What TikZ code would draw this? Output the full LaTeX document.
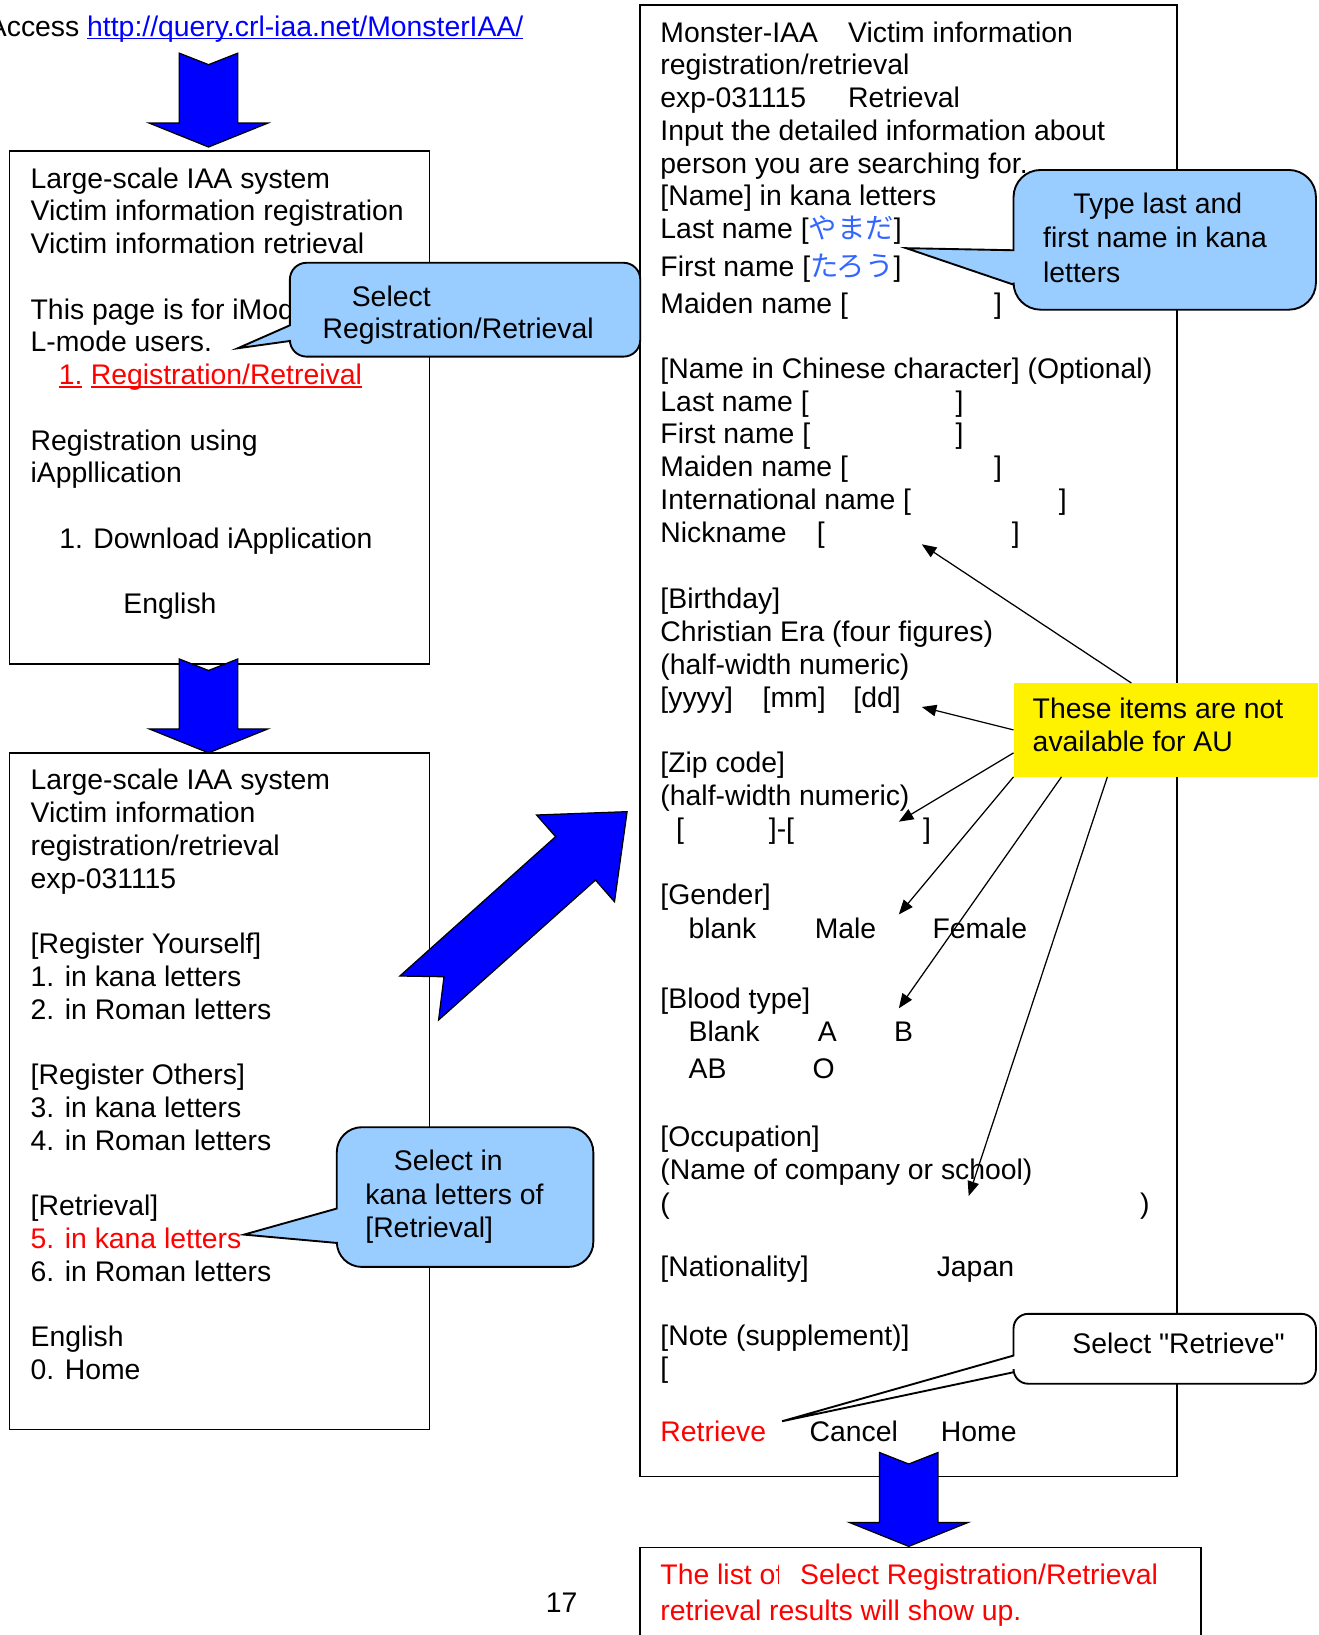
\documentclass[tikz,border=0pt]{standalone}
\usepackage{fontspec}
\setmainfont{Liberation Sans}[Ligatures=TeXOff]
\newfontfamily\jpfont{Noto Sans CJK JP}
\usetikzlibrary{arrows.meta}
\definecolor{bubbleblue}{RGB}{153,204,255}
\definecolor{kanablue}{RGB}{51,102,255}
\newlength{\ulnwidth}
\newcommand{\uln}[1]{\settowidth{\ulnwidth}{#1}\rlap{\rule[-1.4pt]{\ulnwidth}{0.65pt}}#1}
\newcommand{\fieldcol}[2]{\makebox[#1pt][l]{#2}}
\newcommand{\kana}[1]{{\jpfont\color{kanablue}#1}}
% rounded callout: style, left, top, right, bottom, radius, pointer base (top, bottom), tip
\newcommand{\bubbleshape}[9]{%
    \filldraw[#1] (#2,#7) -- (#2,#3+#6) arc[start angle=180, end angle=270, radius=#6]
        -- (#4-#6,#3) arc[start angle=270, end angle=360, radius=#6]
        -- (#4,#5-#6) arc[start angle=0, end angle=90, radius=#6]
        -- (#2+#6,#5) arc[start angle=90, end angle=180, radius=#6]
        -- (#2,#8) -- (#9) -- cycle;
}
\tikzset{
    screen/.style={draw, line width=0.75pt, anchor=north west, outer sep=0pt, inner sep=0pt},
    page/.style={anchor=base west, inner sep=0pt, align=left},
    bubble/.style={draw, line width=0.9pt, fill=bubbleblue},
    plainbubble/.style={draw, line width=0.9pt, fill=white},
    warnbox/.style={fill=yellow, anchor=north west, outer sep=0pt, inner sep=0pt},
    pointer/.style={-{Triangle[length=7pt, width=5.5pt]}, line width=0.6pt},
    blockarrow/.style={draw, fill=blue, line width=0.6pt},
    blockdown/.pic={
        \filldraw[blockarrow] (0,0) -- (-57,-23) -- (-28,-23) -- (-28,-90)
            -- (0,-79) -- (28,-90) -- (28,-23) -- (57,-23) -- cycle;
    },
}

\begin{document}
\begin{tikzpicture}[x=0.5pt, y=-0.5pt, font=\fontsize{13.6}{15.7}\selectfont]
    \useasboundingbox (0,0) rectangle (1264,1568);

    % screens (text nodes sit on the baseline of their last line)
    \node[screen, minimum width=201.5pt, minimum height=246pt] (home) at (9,145) {};
    \node[screen, minimum width=201.5pt, minimum height=324.5pt] (menu) at (9,722) {};
    \node[screen, minimum width=257.5pt, minimum height=705.5pt] (form) at (614,5) {};
    \node[screen, minimum width=269pt, minimum height=68pt] (result) at (614,1484) {};

    \node[page] (access) at (-12,35)
        {Access \textcolor{blue}{\uln{http://query.crl-iaa.net/MonsterIAA/}}};

    \node[page] (hometext) at (29,588.7) {Large-scale IAA system\\
        Victim information registration\\
        Victim information retrieval\\[15.7pt]
        This page is for iMode\\
        L-mode users.\\
        \hspace*{13.5pt}\textcolor{red}{\uln{1.}\hspace{4pt}\uln{Registration/Retreival}}\\[15.7pt]
        Registration using\\
        iAppllication\\[15.7pt]
        \hspace*{13.75pt}1. Download iApplication\\[15.7pt]
        \hspace*{44.5pt}English};

    \node[page] (menutext) at (29,1322.7) {Large-scale IAA system\\
        Victim information\\
        registration/retrieval\\
        exp-031115\\[15.7pt]
        {}[Register Yourself]\\
        1. in kana letters\\
        2. in Roman letters\\[15.7pt]
        {}[Register Others]\\
        3. in kana letters\\
        4. in Roman letters\\[15.7pt]
        {}[Retrieval]\\
        \textcolor{red}{5. in kana letters}\\
        6. in Roman letters\\[15.7pt]
        English\\
        0. Home};

    % search form
    \node[page] (formhead) at (633,300.5) {\fieldcol{90}{Monster-IAA}Victim information\\
        registration/retrieval\\
        \fieldcol{90}{exp-031115}Retrieval\\
        Input the detailed information about\\
        person you are searching for.\\
        {}[Name] in kana letters\\
        Last name [\kana{やまだ}]\\[2.6pt]
        First name [\kana{たろう}]\\[1.8pt]
        \fieldcol{160}{Maiden name [}]};
    \node[page] (formchinese) at (633,520) {{}[Name in Chinese character] (Optional)\\
        \fieldcol{141.5}{Last name [}]\\
        \fieldcol{141.5}{First name [}]\\
        \fieldcol{160}{Maiden name [}]\\
        \fieldcol{191}{International name [}]\\
        \fieldcol{75}{Nickname}\fieldcol{93.5}{[}]};
    \node[page] (formbirth) at (633,678.2) {{}[Birthday]\\
        Christian Era (four figures)\\
        (half-width numeric)\\
        \fieldcol{49}{[yyyy]}\fieldcol{43.5}{[mm]}[dd]};
    \node[page] (formzip) at (633,803.8) {{}[Zip code]\\
        (half-width numeric)\\
        \hspace*{7.5pt}\fieldcol{44.5}{[}\fieldcol{74}{]-[}]};
    \node[page] (formgender) at (633,900) {{}[Gender]\\[0.8pt]
        \hspace*{13.5pt}\fieldcol{60.5}{blank}\fieldcol{56.5}{Male}Female};
    \node[page] (formblood) at (633,1034) {{}[Blood type]\\[0.3pt]
        \hspace*{13.5pt}\fieldcol{62}{Blank}\fieldcol{36.5}{A}B\\[1.8pt]
        \hspace*{13.5pt}\fieldcol{59.5}{AB}O};
    \node[page] (formjob) at (633,1163.3) {{}[Occupation]\\
        (Name of company or school)\\[0.5pt]
        \fieldcol{230}{(})};
    \node[page] (formnation) at (633,1224.5) {\fieldcol{132.5}{[Nationality]}Japan};
    \node[page] (formnote) at (633,1321.4) {{}[Note (supplement)]\\
        {}[};
    \node[page] (formbuttons) at (633,1382.5)
        {\fieldcol{71.5}{\textcolor{red}{Retrieve}}\fieldcol{63}{Cancel}Home};

    \node[page, text=red] (resulttext) at (633,1553.7)
        {The list of\\[1.15pt] retrieval results will show up.};
    \node[page, text=red, fill=white, inner xsep=10pt, inner ysep=1pt] (stray) at (747,1520)
        {Select Registration/Retrieval};

    \node[page] (pagenum) at (523,1546) {17};

    % flow arrows
    \pic at (200,141) {blockdown};
    \pic at (200,722) {blockdown};
    \pic at (871.5,1483) {blockdown};
    \filldraw[blockarrow] (383.5,936) -- (532.8,802.4) -- (514.6,781.6) -- (601.4,778.4)
        -- (589.3,864.8) -- (571.1,844) -- (420.6,978.2) -- (425.8,936.7) -- cycle;

    % callouts
    \coordinate (selregtip) at (228,334);
    \bubbleshape{bubble}{278}{252}{614}{342}{16}{312}{327}{selregtip}
    \node[page] (selreg) at (309,325) {\hspace*{14pt}Select\\Registration/Retrieval};

    \coordinate (typekanatip) at (869,238);
    \bubbleshape{bubble}{972}{163}{1262}{297}{26}{240}{273}{typekanatip}
    \node[page] (typekana) at (1000,270.5) {\hspace*{14.5pt}Type last and\\[0.7pt]
        first name in kana\\[0.7pt]
        letters};

    \coordinate (kanaretip) at (234,1184);
    \bubbleshape{bubble}{323}{1081}{569}{1215}{24}{1159}{1192}{kanaretip}
    \node[page] (kanaret) at (350,1187) {\hspace*{13.7pt}Select in\\[0.45pt]
        kana letters of\\[0.45pt]
        {}[Retrieval]};

    \coordinate (selrettip) at (750,1363);
    \bubbleshape{plainbubble}{972}{1260}{1262}{1327}{14}{1300}{1316}{selrettip}
    \node[page] (selret) at (1028,1298) {Select "Retrieve"};

    % items not available for AU
    \node[warnbox, minimum width=146pt, minimum height=45pt] (au) at (972,655) {};
    \node[page] (autext) at (990,720.4) {These items are not\\available for AU};
    \coordinate (nickhead) at (884,522);
    \coordinate (ddhead) at (884,678);
    \coordinate (ziphead) at (862,788);
    \coordinate (genderhead) at (862,877);
    \coordinate (bloodhead) at (862,967);
    \coordinate (jobhead) at (929,1147);
    \draw[pointer] ([xshift=56.5pt]au.north west) -- (nickhead);
    \draw[pointer] ([yshift=-22.5pt]au.north west) -- (ddhead);
    \draw[pointer] ([yshift=-33.5pt]au.north west) -- (ziphead);
    \draw[pointer] (au.south west) -- (genderhead);
    \draw[pointer] ([xshift=23pt]au.south west) -- (bloodhead);
    \draw[pointer] ([xshift=45pt]au.south west) -- (jobhead);
\end{tikzpicture}
\end{document}
